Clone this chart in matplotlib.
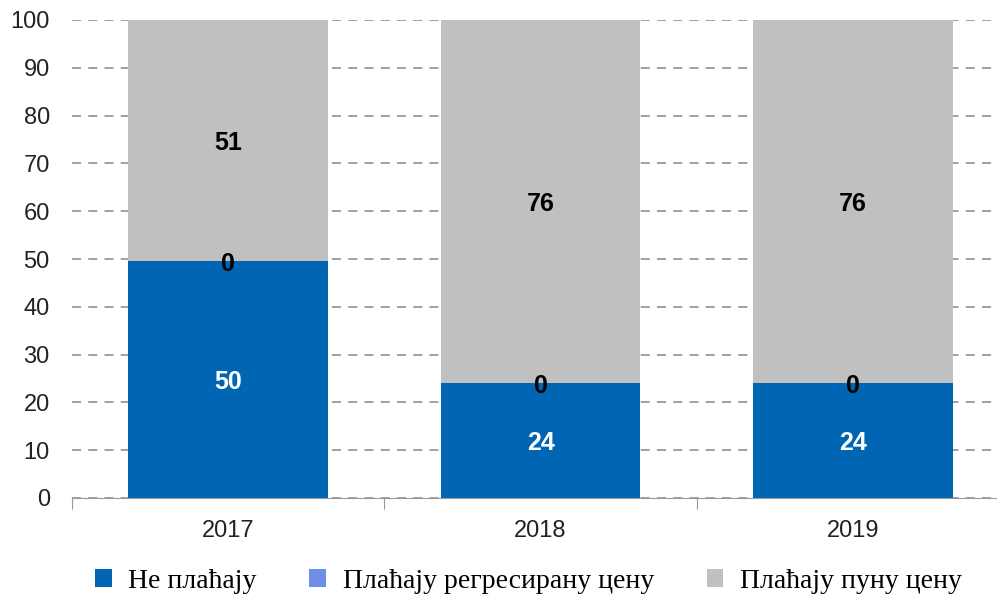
import numpy as np
import matplotlib.pyplot as plt

years = ['2017', '2018', '2019']
ne_placaju = [50, 24, 24]
regresirana = [0, 0, 0]
puna = [51, 76, 76]
labels = ['Не плаћају', 'Плаћају регресирану цену', 'Плаћају пуну цену']
colors = ['#0066b3', '#6e8ee8', '#c0c0c0']

# shares of 100 (the chart is a 100% stacked column)
raw = np.array([ne_placaju, regresirana, puna], dtype=float)
shares = raw / raw.sum(axis=0) * 100

fig = plt.figure(figsize=(9.97, 5.96), dpi=100)
ax = fig.add_axes([72 / 997, 98 / 596, (1009 - 72) / 997, 478 / 596])

x = np.arange(len(years))
bottom = np.zeros(len(years))
for i in range(3):
    ax.bar(x, shares[i], bottom=bottom, width=0.64, color=colors[i],
           label=labels[i], zorder=2)
    for j in range(len(years)):
        txt_color = 'white' if i == 0 else 'black'
        ax.text(x[j], bottom[j] + shares[i][j] / 2 - 0.5, f'{raw[i][j]:.0f}',
                ha='center', va='center', color=txt_color, fontsize=18,
                fontweight='bold', family='Liberation Sans', zorder=3)
    bottom += shares[i]

ax.set_xlim(-0.5, 2.5)
ax.set_ylim(0, 100)
ax.set_yticks(range(0, 101, 10))
ax.yaxis.grid(True, linestyle=(0, (5, 4)), color='#999999', linewidth=1.3, zorder=0)
ax.set_axisbelow(True)

for s in ['top', 'right', 'left']:
    ax.spines[s].set_visible(False)
ax.spines['bottom'].set_color('#999999')

ax.set_xticks([-0.5, 0.5, 1.5], minor=False)
ax.set_xticklabels([])
ax.tick_params(axis='x', which='major', length=8, color='#999999', direction='out')
ax.set_xticks(x, minor=True)
ax.set_xticklabels(years, minor=True)
ax.tick_params(axis='x', which='minor', length=0, pad=16, labelsize=17)
ax.tick_params(axis='y', length=0, pad=16, labelsize=17)
for lab in ax.get_xticklabels(minor=True) + ax.get_yticklabels():
    lab.set_family('Liberation Sans')
    lab.set_color('#222222')

fig.legend(loc='center', bbox_to_anchor=(0.530, 0.025), ncol=3, frameon=False,
           prop={'family': 'Liberation Serif', 'size': 20}, handlelength=0.6,
           handleheight=0.6, handletextpad=0.6, columnspacing=1.9)

fig.savefig('out.png', dpi=100)
